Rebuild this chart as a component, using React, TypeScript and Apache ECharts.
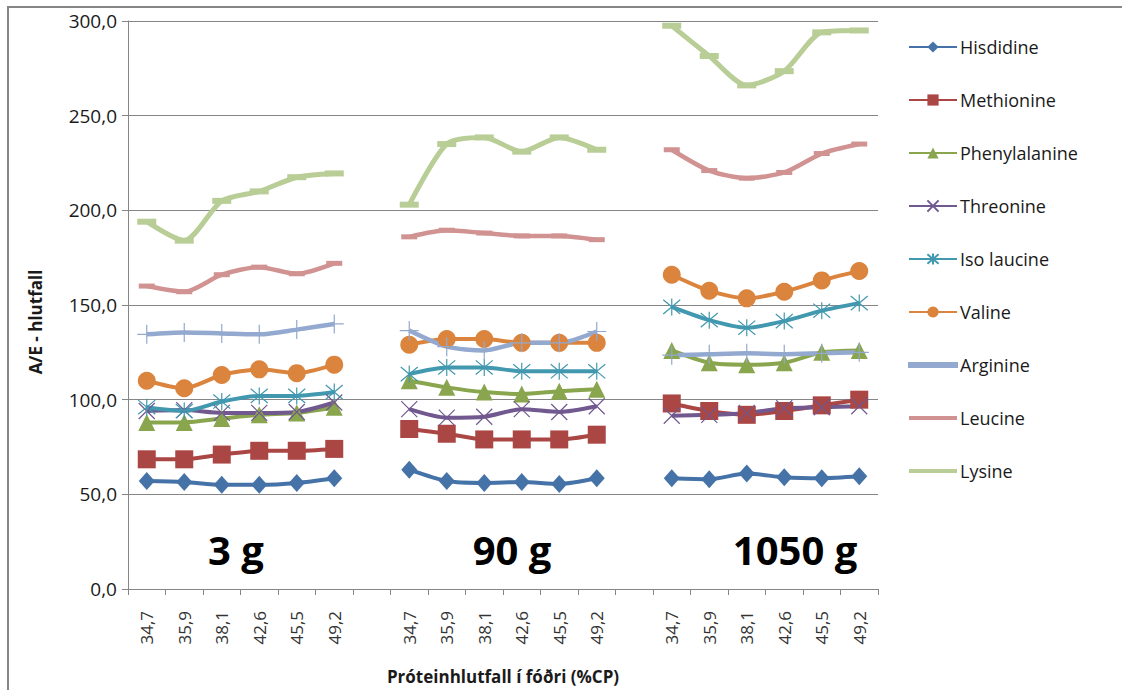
import React, { useEffect, useRef } from "react";
import * as echarts from "echarts";

const cpLabels = ["34,7", "35,9", "38,1", "42,6", "45,5", "49,2"];
const groupLabels = ["3 g", "90 g", "1050 g"];
const yTicks = [0, 50, 100, 150, 200, 250, 300];

// values per series: 3 g (6), 90 g (6), 1050 g (6)
const hisdidine = [57, 56.5, 55, 55, 56, 58.5, 63, 57, 56, 56.5, 55.5, 58.5, 58.5, 58, 61, 59, 58.5, 59.5];
const methionine = [68.5, 68.5, 71, 73, 73, 74, 84.5, 82, 79, 79, 79, 81.5, 98, 94, 92, 94, 97, 100];
const phenylalanine = [88, 88, 90, 92, 93, 96, 110, 106.5, 104, 103, 104.5, 105.5, 126, 119.5, 118.5, 119.5, 125, 126];
const threonine = [94, 94.5, 93, 93, 93.5, 98.5, 95, 90.5, 91, 95, 93.5, 96.5, 91.5, 92, 93, 95.5, 96, 96.5];
const isoLaucine = [96, 94, 99, 102, 102, 104, 113.5, 117, 117, 115, 115, 115, 149, 142, 138, 141.5, 147, 151];
const valine = [110, 106, 113, 116, 114, 118.5, 129, 132, 132, 130, 130, 130, 166, 157.5, 153.5, 157, 163, 168];
const arginine = [134.5, 135.5, 135, 134.5, 137, 140, 136.5, 128, 126, 130, 130, 136, 123.5, 124, 124.5, 124, 124.5, 125];
const leucine = [160, 157, 166, 170, 166.5, 172, 186, 189.5, 188, 186.5, 186.5, 184.5, 232, 221, 217, 220, 230, 235];
const lysine = [194, 184, 205, 210, 217.5, 219.5, 203, 235, 238.5, 231, 238.5, 232, 297.5, 281.5, 266, 273.5, 294, 295];

const FONT = "'Open Sans', sans-serif";

// categories: 3 groups of 6 with a blank category between groups
const categories: string[] = [...cpLabels, "", ...cpLabels, "", ...cpLabels];
const spread = (vals: number[]) => [
  ...vals.slice(0, 6), null, ...vals.slice(6, 12), null, ...vals.slice(12, 18),
];

const X_PATH = "path://M0,0 L10,10 M10,0 L0,10";
const STAR_PATH = "path://M0,0 L10,10 M10,0 L0,10 M5,-1 L5,11";
const PLUS_PATH = "path://M5,0 L5,10 M0,5 L10,5";
const LINE_ICON = "path://M0,0 L48,0 L48,4 L0,4 Z";

const seriesDefs = [
  { name: "Hisdidine", data: hisdidine, color: "#4572A7", symbol: "diamond", size: [16, 18], width: 4 },
  { name: "Methionine", data: methionine, color: "#AA4643", symbol: "rect", size: 18, width: 4 },
  { name: "Phenylalanine", data: phenylalanine, color: "#89A54E", symbol: "triangle", size: 17, width: 4 },
  { name: "Threonine", data: threonine, color: "#71588F", symbol: X_PATH, size: 16, width: 4, stroke: true },
  { name: "Iso laucine", data: isoLaucine, color: "#4198AF", symbol: STAR_PATH, size: 17, width: 4, stroke: true },
  { name: "Valine", data: valine, color: "#DB843D", symbol: "circle", size: 18, width: 4 },
  { name: "Arginine", data: arginine, color: "#93A9CF", symbol: PLUS_PATH, size: 19, width: 4.5, stroke: true, plainLegend: true },
  { name: "Leucine", data: leucine, color: "#D19392", symbol: "rect", size: [16, 5], width: 4.5, plainLegend: true },
  { name: "Lysine", data: lysine, color: "#B9CD96", symbol: "rect", size: [19, 6], width: 5, plainLegend: true },
];

export default function App() {
  const ref = useRef<HTMLDivElement>(null);
  useEffect(() => {
    document.body.style.margin = "0";
    const chart = echarts.init(ref.current!, null, { renderer: "svg" });
    const series = seriesDefs.map((d: any) => ({
      name: d.name,
      type: "line",
      data: spread(d.data),
      smooth: 0.25,
      connectNulls: false,
      symbol: d.symbol,
      symbolSize: d.size,
      showAllSymbol: true,
      lineStyle: { color: d.color, width: d.width },
      itemStyle: d.stroke
        ? { color: d.color, borderColor: d.color, borderWidth: 1.2 }
        : { color: d.color, borderWidth: 0 },
      emphasis: { disabled: true },
    }));
    chart.setOption({
      animation: false,
      backgroundColor: "#ffffff",
      textStyle: { fontFamily: FONT },
      grid: { left: 128, right: 244, top: 21, bottom: 95, containLabel: false },
      legend: {
        orient: "vertical",
        left: 908,
        top: 38,
        padding: 0,
        itemWidth: 48,
        itemHeight: 14,
        itemGap: 35,
        textStyle: { fontFamily: FONT, fontSize: 18, color: "#1a1a1a", padding: [0, 0, 0, -2] },
        data: seriesDefs.map((d: any) =>
          d.plainLegend ? { name: d.name, icon: LINE_ICON } : { name: d.name }
        ),
      },
      xAxis: {
        type: "category",
        data: categories,
        boundaryGap: true,
        axisLine: { lineStyle: { color: "#868686", width: 1 } },
        axisTick: { show: true, length: 6, interval: 0, alignWithLabel: false, lineStyle: { color: "#868686" } },
        axisLabel: {
          interval: 0,
          rotate: 90,
          margin: 22,
          fontSize: 17,
          color: "#333333",
          fontFamily: FONT,
        },
        name: "Próteinhlutfall í fóðri (%CP)",
        nameLocation: "middle",
        nameGap: 79,
        nameTextStyle: { fontSize: 17, fontWeight: "bold", color: "#1a1a1a", fontFamily: FONT },
      },
      yAxis: {
        type: "value",
        min: yTicks[0],
        max: yTicks[yTicks.length - 1],
        interval: 50,
        axisLine: { show: true, lineStyle: { color: "#868686", width: 1 } },
        axisTick: { show: true, length: 6, lineStyle: { color: "#868686" } },
        splitLine: { show: true, lineStyle: { color: "#868686", width: 1 } },
        axisLabel: {
          margin: 11,
          fontSize: 19,
          color: "#1a1a1a",
          fontFamily: FONT,
          formatter: (v: number) => v.toFixed(1).replace(".", ","),
        },
      },
      graphic: [
        {
          type: "rect",
          shape: { x: 8, y: 7, width: 1130, height: 700 },
          style: { fill: "none", stroke: "#868686", lineWidth: 2 },
          silent: true,
        },
        {
          type: "text",
          x: 35,
          y: 322,
          rotation: Math.PI / 2,
          style: {
            text: "A/E - hlutfall",
            fontSize: 17,
            fontWeight: "bold",
            fontFamily: FONT,
            fill: "#1a1a1a",
            align: "center",
            verticalAlign: "middle",
          },
        },
        ...groupLabels.map((t, i) => ({
          type: "text",
          x: [236, 512, 795][i],
          y: 549,
          style: {
            text: t,
            fontSize: 40,
            fontWeight: "bold",
            fontFamily: FONT,
            fill: "#000000",
            align: "center",
            verticalAlign: "middle",
          },
        })),
      ],
      series,
    });
    return () => chart.dispose();
  }, []);
  return <div ref={ref} style={{ width: 1122, height: 690 }} />;
}
